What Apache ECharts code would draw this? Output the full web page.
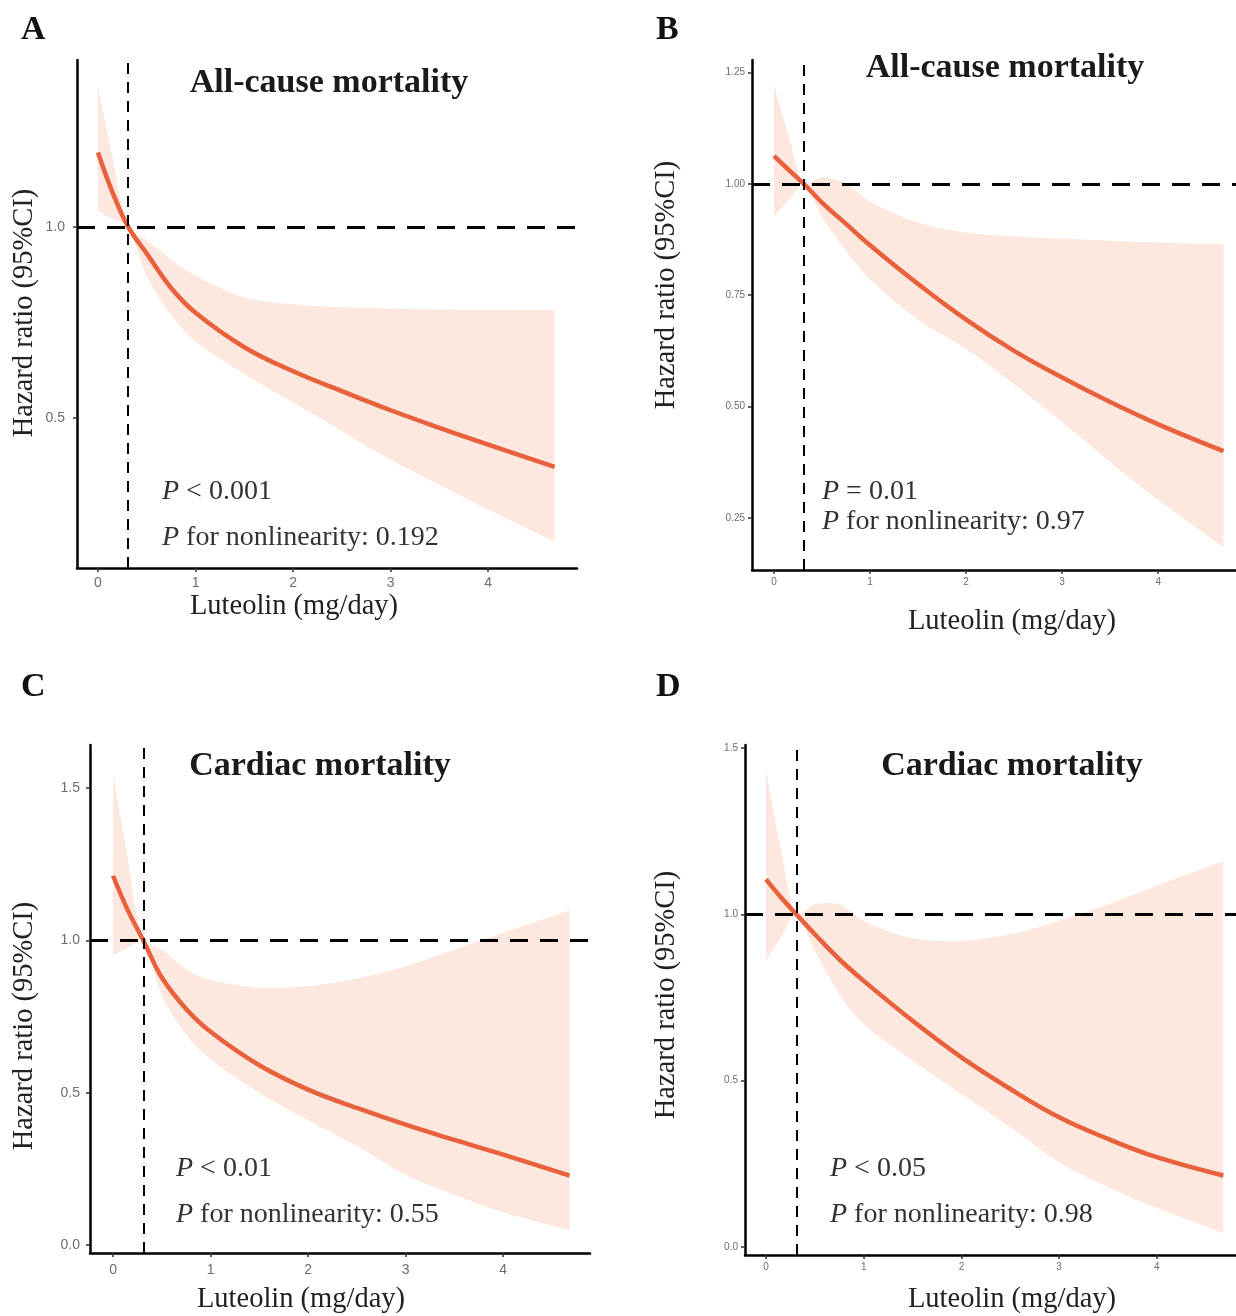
<!DOCTYPE html>
<html>
<head>
<meta charset="utf-8">
<script src="https://cdn.jsdelivr.net/npm/echarts@6/dist/echarts.min.js"></script>
<style>
html, body { margin: 0; padding: 0; background: #fff; }
#chart { width: 1236px; height: 1316px; }
</style>
</head>
<body>
<div id="chart"></div>
<script>
// luteolin intake (mg/day) where the curves were read
const luteolin = [0, 0.15, 0.31, 0.5, 0.75, 1, 1.5, 2, 2.5, 3, 3.5, 4, 4.68]

// A: all-cause mortality
const hrA = [1.195, 1.09, 1.0, 0.93, 0.84, 0.775, 0.685, 0.622, 0.57, 0.52, 0.474, 0.43, 0.372]
const upA = [1.367, 1.18, 1.0, 0.965, 0.915, 0.872, 0.815, 0.797, 0.79, 0.786, 0.784, 0.783, 0.782]
const loA = [1.043, 1.02, 1.0, 0.87, 0.77, 0.70, 0.615, 0.54, 0.465, 0.39, 0.325, 0.26, 0.175]

// B: all-cause mortality
const hrB = [1.063, 1.032, 1.0, 0.958, 0.91, 0.862, 0.775, 0.695, 0.625, 0.565, 0.51, 0.46, 0.40]
const upB = [1.222, 1.11, 1.0, 1.015, 1.0, 0.96, 0.913, 0.89, 0.882, 0.877, 0.872, 0.868, 0.864]
const loB = [0.928, 0.962, 1.0, 0.925, 0.85, 0.785, 0.695, 0.63, 0.55, 0.465, 0.375, 0.29, 0.184]

// C: cardiac mortality
const hrC = [1.212, 1.10, 1.0, 0.878, 0.775, 0.70, 0.59, 0.51, 0.45, 0.395, 0.345, 0.297, 0.228]
const upC = [1.548, 1.27, 1.0, 0.97, 0.905, 0.87, 0.845, 0.85, 0.875, 0.915, 0.97, 1.025, 1.099]
const loC = [0.952, 0.975, 1.0, 0.82, 0.69, 0.61, 0.50, 0.41, 0.325, 0.23, 0.165, 0.107, 0.049]

// D: cardiac mortality
const hrD = [1.105, 1.052, 1.0, 0.94, 0.865, 0.80, 0.68, 0.57, 0.475, 0.39, 0.325, 0.27, 0.215]
const upD = [1.428, 1.2, 1.0, 1.03, 1.03, 0.98, 0.928, 0.92, 0.94, 0.98, 1.03, 1.086, 1.161]
const loD = [0.862, 0.93, 1.0, 0.89, 0.76, 0.67, 0.56, 0.46, 0.36, 0.255, 0.18, 0.117, 0.042]

const xTicks = [0, 1, 2, 3, 4]
const yTicksA = [0.5, 1.0]
const yTicksB = [0.25, 0.5, 0.75, 1.0, 1.25]
const yTicksC = [0, 0.5, 1.0, 1.5]
const yTicksD = [0, 0.5, 1.0, 1.5]

const knot = 0.31
const reference = 1

const serif = "'Liberation Serif', 'Times New Roman', serif"
const sans = "'Liberation Sans', Arial, sans-serif"
const lineColor = '#E8613C'
const bandColor = '#FDE8DF'
const tickColor = '#6e6e6e'

const panels = [
  {
    letter: 'A', title: 'All-cause mortality', hr: hrA, up: upA, lo: loA, yTicks: yTicksA, digits: 1,
    grid: { left: 77, top: 60, width: 500, height: 508 },
    xMin: -0.215, xMax: 4.91, yMin: 0.107, yMax: 1.437, tickSize: 14, yMargin: 12, xMargin: 8,
    letterPos: [21, 30], titlePos: [329, 83], p1: '{i|P} < 0.001', p2: '{i|P} for nonlinearity: 0.192',
    pPos: [162, 492, 538], xNamePos: [294, 607], yNamePos: [25, 313]
  },
  {
    letter: 'B', title: 'All-cause mortality', hr: hrB, up: upB, lo: loB, yTicks: yTicksB, digits: 2,
    grid: { left: 752, top: 60, width: 484, height: 510 },
    xMin: -0.229, xMax: 4.81, yMin: 0.133, yMax: 1.278, tickSize: 10, yMargin: 7, xMargin: 7,
    letterPos: [656, 30], titlePos: [1005, 68], p1: '{i|P} = 0.01', p2: '{i|P} for nonlinearity: 0.97',
    pPos: [822, 492, 522], xNamePos: [1012, 622], yNamePos: [667, 285]
  },
  {
    letter: 'C', title: 'Cardiac mortality', hr: hrC, up: upC, lo: loC, yTicks: yTicksC, digits: 1,
    grid: { left: 90, top: 745, width: 500, height: 508 },
    xMin: -0.236, xMax: 4.89, yMin: -0.026, yMax: 1.641, tickSize: 14, yMargin: 10, xMargin: 10,
    letterPos: [21, 687], titlePos: [320, 766], p1: '{i|P} < 0.01', p2: '{i|P} for nonlinearity: 0.55',
    pPos: [176, 1169, 1215], xNamePos: [301, 1300], yNamePos: [25, 1026]
  },
  {
    letter: 'D', title: 'Cardiac mortality', hr: hrD, up: upD, lo: loD, yTicks: yTicksD, digits: 1,
    grid: { left: 745, top: 745, width: 491, height: 510 },
    xMin: -0.215, xMax: 4.81, yMin: -0.024, yMax: 1.509, tickSize: 10, yMargin: 7, xMargin: 7,
    letterPos: [656, 687], titlePos: [1012, 766], p1: '{i|P} < 0.05', p2: '{i|P} for nonlinearity: 0.98',
    pPos: [830, 1169, 1215], xNamePos: [1012, 1300], yNamePos: [667, 995]
  }
]

const grid = []
const xAxis = []
const yAxis = []
const series = []
const graphic = []

function pText (x, y, text) {
  return {
    type: 'text', x: x, y: y, z: 100,
    style: {
      text: text, fill: '#333', fontFamily: serif, fontSize: 28,
      align: 'left', verticalAlign: 'middle',
      rich: { i: { fontStyle: 'italic', fontFamily: serif, fontSize: 28, fill: '#333' } }
    }
  }
}

panels.forEach((p, i) => {
  grid.push(Object.assign({ containLabel: false }, p.grid))
  xAxis.push({
    type: 'value', gridIndex: i, min: p.xMin, max: p.xMax,
    axisLine: { show: true, onZero: false, lineStyle: { color: '#000', width: 2.5 } },
    axisTick: { show: true, customValues: xTicks, length: 4, lineStyle: { color: '#333', width: 1.5 } },
    axisLabel: { customValues: xTicks, color: tickColor, fontFamily: sans, fontSize: p.tickSize, margin: p.xMargin },
    splitLine: { show: false }
  })
  yAxis.push({
    type: 'value', gridIndex: i, min: p.yMin, max: p.yMax,
    axisLine: { show: true, onZero: false, lineStyle: { color: '#000', width: 2.5 } },
    axisTick: { show: true, customValues: p.yTicks, length: 4, lineStyle: { color: '#333', width: 1.5 } },
    axisLabel: {
      customValues: p.yTicks, color: tickColor, fontFamily: sans, fontSize: p.tickSize, margin: p.yMargin,
      formatter: v => Number(v).toFixed(p.digits)
    },
    splitLine: { show: false }
  })
  // confidence band: one polygon, upper bound then lower bound reversed
  series.push({
    type: 'custom', xAxisIndex: i, yAxisIndex: i, z: 1, silent: true,
    data: luteolin.map((x, k) => [x, p.lo[k], p.up[k]]),
    encode: { x: 0, y: [1, 2] },
    renderItem: (params, api) => {
      if (params.dataIndex !== 0) return null
      const n = luteolin.length
      const pts = []
      for (let k = 0; k < n; k++) {
        const c = api.coord([luteolin[k], p.up[k]])
        pts.push(c)
        if (k === 0 || k === n - 1) pts.push(c.slice()) // keep the end edges straight
      }
      for (let k = n - 1; k >= 0; k--) {
        const c = api.coord([luteolin[k], p.lo[k]])
        pts.push(c)
        if (k === 0 || k === n - 1) pts.push(c.slice())
      }
      const xsPx = pts.map(q => q[0])
      const ysPx = pts.map(q => q[1])
      const box = [[Math.min(...xsPx), Math.min(...ysPx)], [Math.max(...xsPx), Math.max(...ysPx)]]
      return {
        type: 'polygon',
        shape: { points: pts, smooth: 0.3, smoothConstraint: box },
        style: { fill: bandColor }
      }
    }
  })
  series.push({
    type: 'line', xAxisIndex: i, yAxisIndex: i, z: 3,
    data: luteolin.map((x, k) => [x, p.hr[k]]),
    symbol: 'none', smooth: 0.4, silent: true,
    lineStyle: { color: lineColor, width: 4.5 },
    markLine: {
      silent: true, symbol: ['none', 'none'], label: { show: false },
      data: [
        { yAxis: reference, lineStyle: { color: '#000', width: 3, type: [18, 12] } },
        { xAxis: knot, lineStyle: { color: '#000', width: 2, type: [11, 8] } }
      ]
    }
  })

  graphic.push({
    type: 'text', x: p.letterPos[0], y: p.letterPos[1], z: 100,
    style: { text: p.letter, fill: '#111', font: 'bold 34px ' + serif, align: 'left', verticalAlign: 'middle' }
  })
  graphic.push({
    type: 'text', x: p.titlePos[0], y: p.titlePos[1], z: 100,
    style: { text: p.title, fill: '#1a1a1a', font: 'bold 34px ' + serif, align: 'center', verticalAlign: 'middle' }
  })
  graphic.push(pText(p.pPos[0], p.pPos[1], p.p1))
  graphic.push(pText(p.pPos[0], p.pPos[2], p.p2))
  graphic.push({
    type: 'text', x: p.xNamePos[0], y: p.xNamePos[1], z: 100,
    style: { text: 'Luteolin (mg/day)', fill: '#222', font: '28.5px ' + serif, align: 'center', verticalAlign: 'middle' }
  })
  graphic.push({
    type: 'text', x: p.yNamePos[0], y: p.yNamePos[1], rotation: Math.PI / 2, z: 100,
    style: { text: 'Hazard ratio (95%CI)', fill: '#222', font: '28.5px ' + serif, align: 'center', verticalAlign: 'middle' }
  })
})

const myChart = echarts.init(document.getElementById('chart'))
myChart.setOption({
  backgroundColor: '#fff',
  animation: false,
  grid: grid,
  xAxis: xAxis,
  yAxis: yAxis,
  series: series,
  graphic: graphic
})
</script>
</body>
</html>
